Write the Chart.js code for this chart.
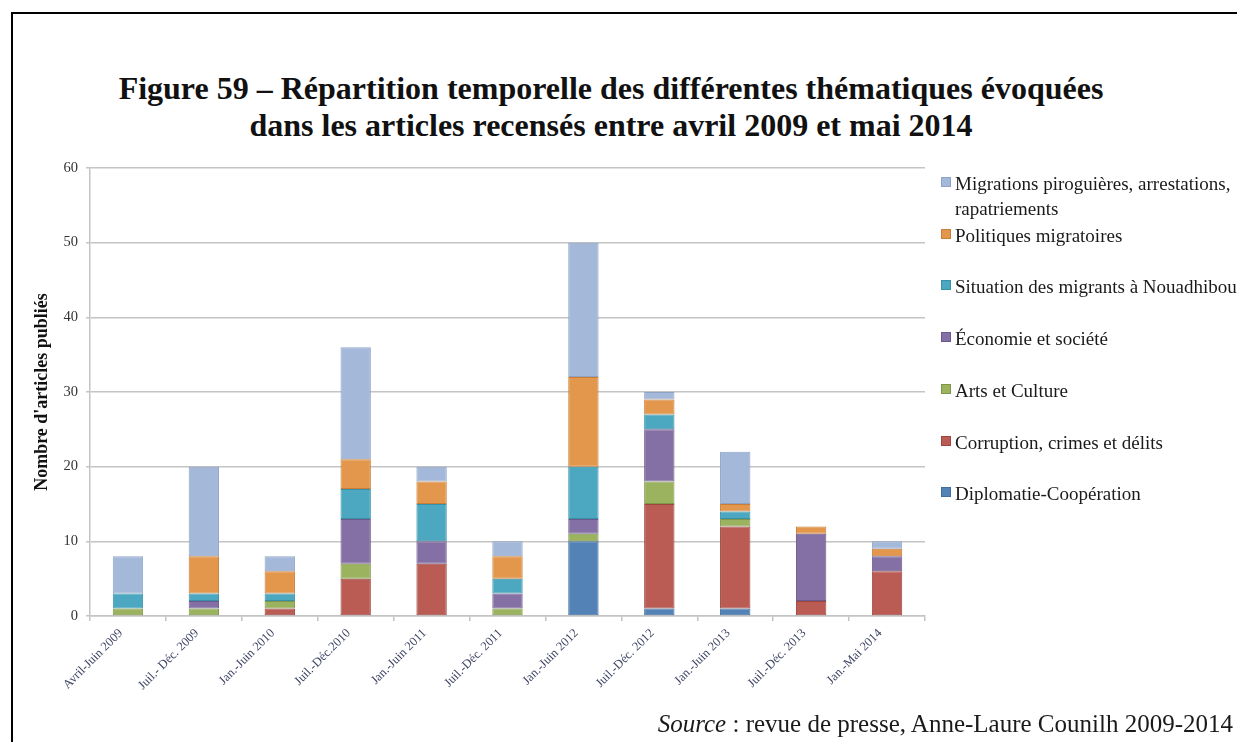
<!DOCTYPE html>
<html lang="fr">
<head>
<meta charset="utf-8">
<title>Figure 59</title>
<script src="https://cdn.jsdelivr.net/npm/chart.js@4.4.1/dist/chart.umd.min.js"></script>
<style>
    html, body { margin: 0; padding: 0; background: #fff; }
    body { width: 1237px; height: 742px; position: relative; overflow: hidden; font-family: "Liberation Serif", "DejaVu Serif", serif; }
    .frame { position: absolute; left: 11px; top: 12px; right: -10px; bottom: -10px; border-left: 2px solid #000; border-top: 2px solid #000; }
    .title { position: absolute; left: 0; width: 1222px; top: 70px; text-align: center; font-weight: bold; font-size: 32px; line-height: 37px; color: #111; }
    #chartBox { position: absolute; left: 0; top: 0; width: 1237px; height: 742px; }
    .legend { position: absolute; left: 0; top: 0; }
    .legend-item { position: absolute; left: 941px; width: 320px; display: flex; align-items: flex-start; font-size: 19px; line-height: 25px; color: #1a1a1a; white-space: nowrap; }
    .legend-item .sw { width: 10px; height: 10px; margin-top: 6px; margin-right: 4px; flex: none; box-sizing: border-box; }
    .source { position: absolute; right: 4px; top: 710px; font-size: 25px; color: #1a1a1a; white-space: nowrap; }
</style>
</head>
<body>
<div class="frame"></div>
<div class="title">Figure 59 – Répartition temporelle des différentes thématiques évoquées<br>dans les articles recensés entre avril 2009 et mai 2014</div>
<div id="chartBox"><canvas id="themeChart"></canvas></div>
<div class="legend" id="legend"></div>
<div class="source"><i>Source</i> : revue de presse, Anne-Laure Counilh 2009-2014</div>

<script>
// Periods covered by the press review
const periods = [
    "Avril-Juin 2009", "Juil.- Déc. 2009", "Jan.-Juin 2010", "Juil.-Déc.2010",
    "Jan.-Juin 2011", "Juil.-Déc. 2011", "Jan.-Juin 2012", "Juil.-Déc. 2012",
    "Jan.-Juin 2013", "Juil.-Déc. 2013", "Jan.-Mai 2014"
];

// Number of articles per theme, one value per period (stacked bottom to top)
const diplomatie  = [0, 0, 0, 0, 0, 0, 10, 1, 1, 0, 0];
const corruption  = [0, 0, 1, 5, 7, 0, 0, 14, 11, 2, 6];
const arts        = [1, 1, 1, 2, 0, 1, 1, 3, 1, 0, 0];
const economie    = [0, 1, 0, 6, 3, 2, 2, 7, 0, 9, 2];
const situation   = [2, 1, 1, 4, 5, 2, 7, 2, 1, 0, 0];
const politiques  = [0, 5, 3, 4, 3, 3, 12, 2, 1, 1, 1];
const migrations  = [5, 12, 2, 15, 2, 2, 18, 1, 7, 0, 1];

const yTicks = [0, 10, 20, 30, 40, 50, 60];

const themes = [
    { label: "Diplomatie-Coopération", data: diplomatie, color: "#5383b6", edge: "#416d9c" },
    { label: "Corruption, crimes et délits", data: corruption, color: "#ba5b54", edge: "#9c4640" },
    { label: "Arts et Culture", data: arts, color: "#9bb25f", edge: "#7f964a" },
    { label: "Économie et société", data: economie, color: "#8570a5", edge: "#6c5a8c" },
    { label: "Situation des migrants à Nouadhibou", data: situation, color: "#4ba8c0", edge: "#3890a8" },
    { label: "Politiques migratoires", data: politiques, color: "#e3974c", edge: "#c97d36" },
    { label: "Migrations piroguières, arrestations, rapatriements", data: migrations, color: "#a4b8d9", edge: "#8ea3c6" }
];

const serif = "'Liberation Serif', 'DejaVu Serif', serif";

const datasets = themes.map(t => ({
    label: t.label,
    data: t.data,
    backgroundColor: t.color,
    borderColor: t.edge,
    borderWidth: 1,
    borderSkipped: false,
    barPercentage: 0.4,
    categoryPercentage: 1.0
}));

new Chart(document.getElementById('themeChart'), {
    type: 'bar',
    data: { labels: periods, datasets },
    options: {
        responsive: true,
        maintainAspectRatio: false,
        animation: false,
        layout: { padding: { left: 14, right: 312, top: 168, bottom: 0 } },
        plugins: {
            legend: { display: false },
            tooltip: { enabled: false }
        },
        scales: {
            x: {
                stacked: true,
                afterFit: scale => { scale.height = 126; },
                grid: { offset: true, drawOnChartArea: false, drawTicks: true, tickLength: 5, color: '#c4c4c4', lineWidth: 1.5 },
                border: { color: '#c4c4c4', width: 1.5 },
                ticks: {
                    maxRotation: 45, minRotation: 45, autoSkip: false, padding: 5, labelOffset: -7,
                    color: '#3d4463', font: { family: serif, size: 12.5 }
                }
            },
            y: {
                stacked: true,
                min: 0, max: 60,
                afterFit: scale => { scale.width = 76; },
                afterBuildTicks: scale => { scale.ticks = yTicks.map(v => ({ value: v })); },
                grid: { color: '#c4c4c4', lineWidth: 1.5, tickLength: 4 },
                border: { color: '#c4c4c4', width: 1.5 },
                ticks: { padding: 8, color: '#333', font: { family: serif, size: 14.5 } },
                title: {
                    display: true, text: "Nombre d'articles publiés",
                    color: '#111', font: { family: serif, size: 18, weight: 'bold' },
                    padding: { top: 18, bottom: 0 }
                }
            }
        }
    }
});

// Legend on the right, top entry first (reverse of stacking order)
const legend = document.getElementById('legend');
themes.slice().reverse().forEach((t, i) => {
    const item = document.createElement('div');
    item.className = 'legend-item';
    item.style.top = (171 + i * 51.7) + 'px';
    const sw = document.createElement('span');
    sw.className = 'sw';
    sw.style.background = t.color;
    sw.style.border = '1px solid ' + t.edge;
    const txt = document.createElement('span');
    if (i === 0) {
        // long label wraps after the comma, as in the printed figure
        txt.innerHTML = 'Migrations piroguières, arrestations,<br>rapatriements';
    } else {
        txt.textContent = t.label;
    }
    item.appendChild(sw);
    item.appendChild(txt);
    legend.appendChild(item);
});
</script>
</body>
</html>
